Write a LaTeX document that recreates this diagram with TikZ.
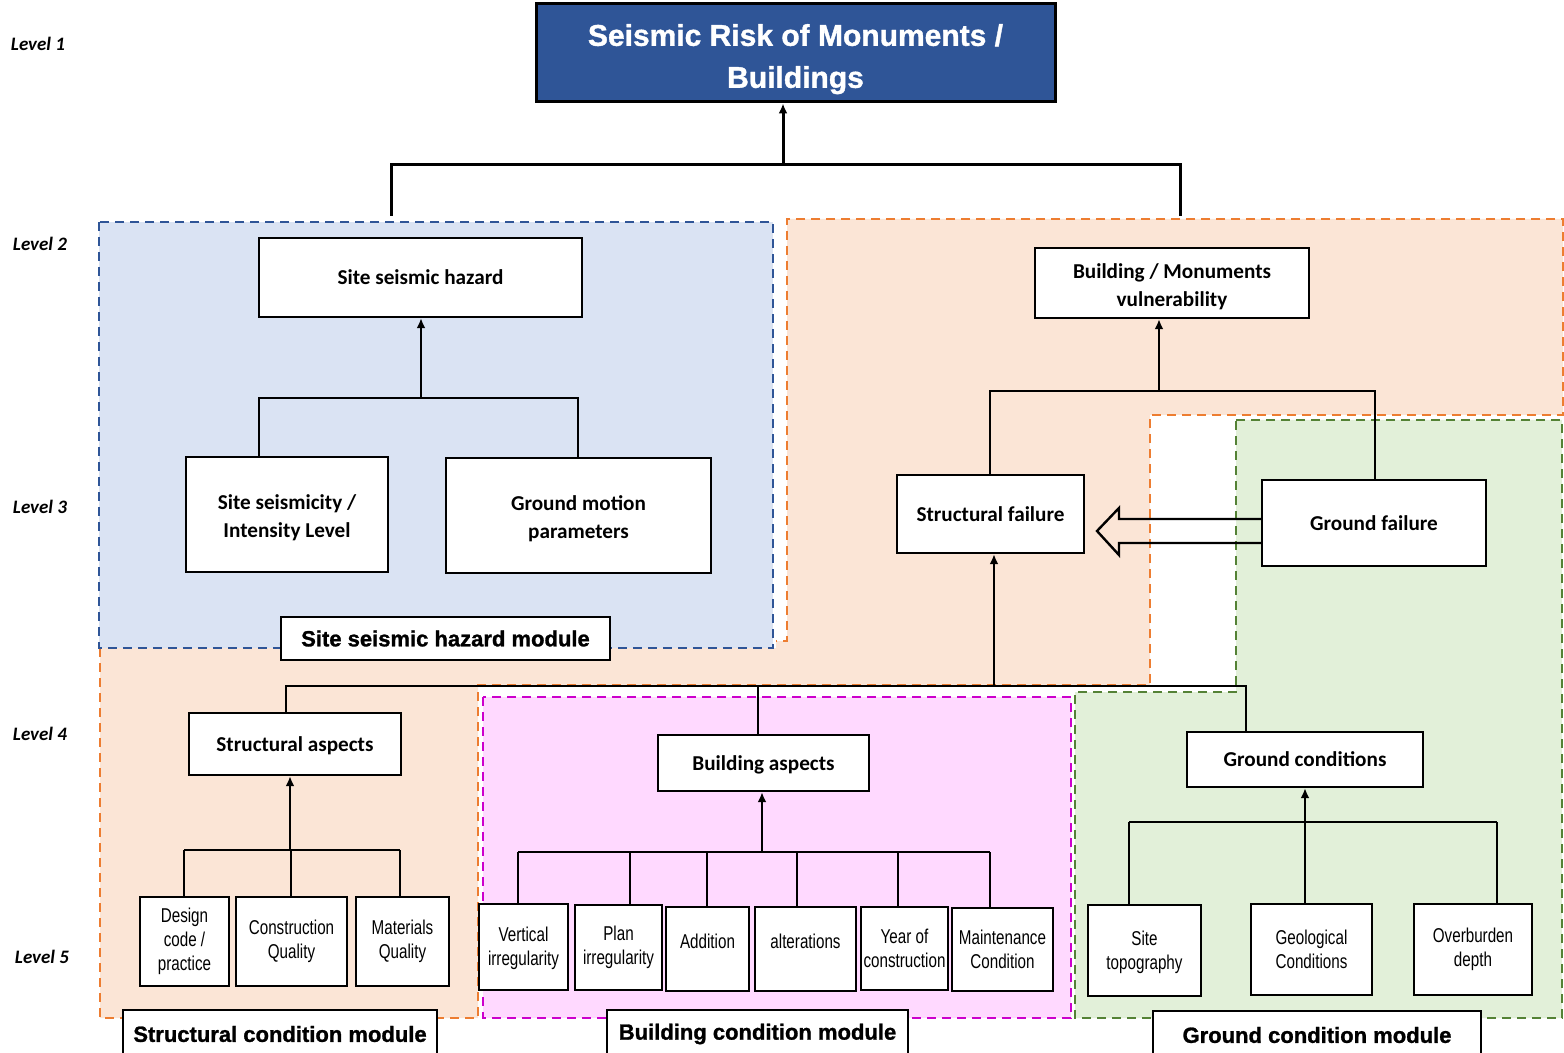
\documentclass[tikz,border=0pt]{standalone}
\usepackage{fontspec}
\setmainfont{Carlito}
\newfontfamily\arialfont[BoldFeatures={FakeBold=1.2}]{Liberation Sans}
\newfontfamily\narrowfont[FakeStretch=0.76]{Liberation Sans}
\usetikzlibrary{arrows.meta}

\definecolor{hazfill}{HTML}{DAE3F3}
\definecolor{hazline}{HTML}{2F5597}
\definecolor{vulfill}{HTML}{FBE5D6}
\definecolor{vulline}{HTML}{ED7D31}
\definecolor{bldfill}{HTML}{FFD9FF}
\definecolor{bldline}{HTML}{CC00CC}
\definecolor{gndfill}{HTML}{E2F0D9}
\definecolor{gndline}{HTML}{548235}
\definecolor{titlefill}{HTML}{2F5597}

\tikzset{
  zone/.style={line width=1pt, dash pattern=on 4.5pt off 3pt},
  box/.style={draw, fill=white, line width=1.2pt, inner sep=1pt, align=center,
    font=\bfseries\fontsize{10.6}{14}\selectfont},
  leaf/.style={box, font=\narrowfont\fontsize{10}{12}\selectfont},
  modbox/.style={box, font=\arialfont\bfseries\fontsize{11}{13}\selectfont},
  lvl/.style={font=\bfseries\itshape\fontsize{9.5}{11}\selectfont},
  line/.style={line width=1.2pt},
  arr/.style={line width=1.2pt, -{Latex[length=5pt,width=4.5pt]}},
}

\begin{document}
\begin{tikzpicture}[x=0.5pt, y=-0.5pt]
	\useasboundingbox (0,0) rectangle (1564,1053);
	% module areas
	\fill[vulfill] (787,219) -- (1563,219) -- (1563,415) -- (1150,415) -- (1150,685) -- (478,685) -- (478,1018) -- (100,1018) -- (100,648) -- (776,648) -- (776,641) -- (787,641) -- cycle;
	\draw[zone, vulline] (100,648) -- (100,1018) -- (478,1018) -- (478,685) -- (1150,685) -- (1150,415) -- (1563,415) -- (1563,219) -- (787,219) -- (787,641) -- (776,641);
	\draw[zone, hazline, fill=hazfill] (99,222) rectangle (773,648);
	\draw[zone, bldline, fill=bldfill] (483,697) rectangle (1071,1018);
	\draw[zone, gndline, fill=gndfill] (1236,420) -- (1562,420) -- (1562,1018) -- (1075,1018) -- (1075,692) -- (1236,692) -- cycle;

	% level labels
	\node[lvl] (lv1) at (38,44) {Level 1};
	\node[lvl] (lv2) at (40,244) {Level 2};
	\node[lvl] (lv3) at (40,507) {Level 3};
	\node[lvl] (lv4) at (40,734) {Level 4};
	\node[lvl] (lv5) at (42,957) {Level 5};

	% level 1 and 2
	\node[draw, line width=1.5pt, fill=titlefill, text=white, align=center,
	  font=\arialfont\bfseries\fontsize{15}{21}\selectfont,
	  minimum width=259.5pt, minimum height=49pt] (title) at (795.5,53) {\rule{0pt}{17pt}Seismic Risk of Monuments /\\Buildings};
	\node[box, minimum width=161.5pt, minimum height=39.5pt] (haz) at (420.5,277.5) {Site seismic hazard};
	\node[box, minimum width=137pt, minimum height=35pt] (vul) at (1172,283) {\rule{0pt}{11pt}Building / Monuments\\vulnerability};

	% level 3
	\node[box, minimum width=101pt, minimum height=57.5pt] (sei) at (287,514.5) {\rule{0pt}{11pt}Site seismicity /\\Intensity Level};
	\node[box, minimum width=132.5pt, minimum height=57.5pt] (gmp) at (578.5,515.5) {\rule{0pt}{11pt}Ground motion\\parameters};
	\node[box, minimum width=93.5pt, minimum height=39pt] (stf) at (990.5,514) {Structural failure};
	\node[box, minimum width=112pt, minimum height=43pt] (grf) at (1374,523) {Ground failure};

	% level 4
	\node[box, minimum width=106pt, minimum height=31pt] (stra) at (295,744) {\rule{0pt}{9.5pt}Structural aspects};
	\node[box, minimum width=105.5pt, minimum height=28pt] (bua) at (763.5,763) {\rule{0pt}{9.5pt}Building aspects};
	\node[box, minimum width=118pt, minimum height=27.5pt] (gco) at (1305,759.5) {Ground conditions};

	% level 5
	\node[leaf, minimum width=44.5pt, minimum height=44.5pt] (dcp) at (184.5,941.5) {Design\\code /\\practice};
	\node[leaf, minimum width=55.5pt, minimum height=44.5pt] (cq) at (291.5,941.5) {Construction\\Quality};
	\node[leaf, minimum width=46.5pt, minimum height=44.5pt] (mq) at (402.5,941.5) {Materials\\Quality};
	\node[leaf, minimum width=44.5pt, minimum height=43pt] (vi) at (523.5,947) {\rule{0pt}{9pt}Vertical\\irregularity};
	\node[leaf, minimum width=43.5pt, minimum height=42.5pt] (pi) at (618.5,947.5) {Plan\\irregularity};
	\node[leaf, minimum width=41.5pt, minimum height=42pt] (add) at (707.5,949) {Addition\\[-4pt]};
	\node[leaf, minimum width=50.5pt, minimum height=42pt] (alt) at (805.5,949) {alterations\\[-4pt]};
	\node[leaf, minimum width=43.5pt, minimum height=41.5pt] (yoc) at (904.5,948.5) {Year of\\construction};
	\node[leaf, minimum width=50.5pt, minimum height=41.5pt] (mc) at (1002.5,949.5) {Maintenance\\Condition};
	\node[leaf, minimum width=56.5pt, minimum height=45.5pt] (st) at (1144.5,950.5) {\rule{0pt}{9pt}Site\\topography};
	\node[leaf, minimum width=60.5pt, minimum height=45.5pt] (gc) at (1311.5,949.5) {Geological\\Conditions};
	\node[leaf, minimum width=59pt, minimum height=45.5pt] (od) at (1473,949.5) {Overburden\\depth};

	% connectors
	\coordinate (topj) at (783,165);
	\coordinate (hzin) at (391,216);
	\coordinate (vuin) at (1180,216);
	\draw[line, line width=1.5pt] (hzin) |- (topj) -| (vuin);
	\draw[arr, line width=1.5pt] (topj) -- (title.south -| topj);

	\coordinate (hzj) at (421,398);
	\coordinate (hzl) at (259,398);
	\coordinate (hzr) at (578,398);
	\draw[line] (sei.north -| hzl) -- (hzl) -- (hzr) -- (gmp.north -| hzr);
	\draw[arr] (hzj) -- (haz.south -| hzj);

	\coordinate (vuj) at (1159,391);
	\coordinate (vul1) at (990,391);
	\coordinate (vur) at (1375,391);
	\draw[line] (stf.north -| vul1) -- (vul1) -- (vur) -- (grf.north -| vur);
	\draw[arr] (vuj) -- (vul.south -| vuj);

	\coordinate (sfj) at (994,686);
	\coordinate (sfl) at (286,686);
	\coordinate (sfm) at (758,686);
	\coordinate (sfr) at (1246,686);
	\draw[line] (stra.north -| sfl) -- (sfl) -- (sfr) -- (gco.north -| sfr);
	\draw[line] (sfm) -- (bua.north -| sfm);
	\draw[arr] (sfj) -- (stf.south -| sfj);

	\draw[arr] (290,850) coordinate (saj) -- (stra.south -| saj);
	\foreach \n/\x in {dcp/184, cq/291, mq/400}
	  \draw[line] (\n.north -| \x,850) -- (\x,850);
	\draw[line] (184,850) coordinate (sal) -- (400,850) coordinate (sar);

	\draw[arr] (762,852) coordinate (baj) -- (bua.south -| baj);
	\draw[line] (518,852) coordinate (bal) -- (990,852) coordinate (bar);
	\foreach \n/\x in {vi/518, pi/630, add/707, alt/797, yoc/898, mc/990}
	  \draw[line] (\n.north -| \x,852) -- (\x,852);

	\draw[arr] (1305,822) coordinate (gcj) -- (gco.south -| gcj);
	\draw[line] (1129,822) coordinate (gcl) -- (1497,822) coordinate (gcr);
	\foreach \n/\x in {st/1129, gc/1305, od/1497}
	  \draw[line] (\n.north -| \x,822) -- (\x,822);

	% ground failure feeds structural failure
	\draw[line width=1.2pt] (grf.west |- 0,519) -- (1119,519) -- (1119,508) -- (1097,531)
	  -- (1119,555) -- (1119,543) -- (grf.west |- 0,543);

	% module labels
	\node[modbox, minimum width=164.5pt, minimum height=21.5pt] (shm) at (445.5,638.5) {Site seismic hazard module};
	\node[modbox, minimum width=157pt, minimum height=24pt] (scm) at (280,1034) {Structural condition module};
	\node[modbox, minimum width=150.5pt, minimum height=24pt] (bcm) at (757.5,1034) {Building condition module};
	\node[modbox, minimum width=164pt, minimum height=24pt] (gcm) at (1317,1035) {Ground condition module};
\end{tikzpicture}
\end{document}
